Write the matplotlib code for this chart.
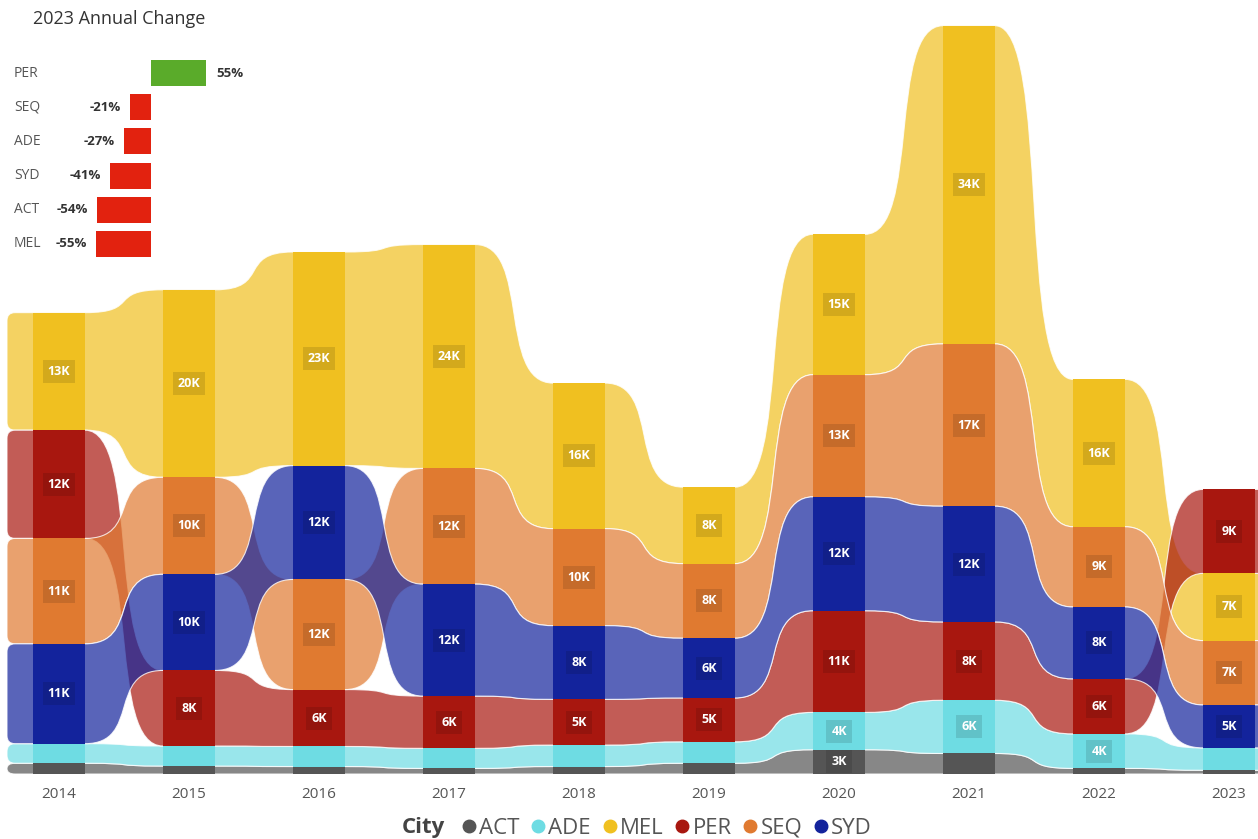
import numpy as np
import matplotlib.pyplot as plt
from matplotlib.path import Path
from matplotlib.patches import PathPatch
from matplotlib.lines import Line2D
from matplotlib.colors import to_rgb

plt.rcParams['font.family'] = ['Open Sans', 'DejaVu Sans']

# Dwellings per city and year (thousands)
years = [2014, 2015, 2016, 2017, 2018, 2019, 2020, 2021, 2022, 2023]
cities = ['ACT', 'ADE', 'MEL', 'PER', 'SEQ', 'SYD']

act = [1.15, 0.85, 0.8, 0.6, 0.8, 1.15, 2.6, 2.2, 0.6, 0.4]
ade = [2.1, 2.15, 2.15, 2.15, 2.3, 2.3, 4.0, 5.7, 3.7, 2.4]
mel = [12.6, 20.1, 22.9, 24.0, 15.6, 8.2, 15.05, 34.1, 15.8, 7.2]
per = [11.6, 8.1, 6.1, 5.6, 4.9, 4.7, 10.9, 8.4, 5.9, 9.0]
seq = [11.3, 10.4, 11.8, 12.4, 10.4, 8.0, 13.1, 17.4, 8.6, 6.9]
syd = [10.7, 10.3, 12.2, 12.0, 7.9, 6.4, 12.2, 12.4, 7.7, 4.6]

# 2023 annual change panel
change_cities = ['PER', 'SEQ', 'ADE', 'SYD', 'ACT', 'MEL']
change_pct = [55, -21, -27, -41, -54, -55]

colors = {'ACT': '#555555', 'ADE': '#6edce3', 'MEL': '#f0c020',
          'PER': '#a8170f', 'SEQ': '#e07a30', 'SYD': '#13239c'}

W, H = 1258, 839
PX_PER_UNIT = 130.0     # horizontal pixels per year
PX_PER_K = 9.33         # vertical pixels per thousand
BASE_PX, TOP_PX = 774, 20
BEND = 0.72             # bezier handle length as share of the gap (0.5 = gentle)

values = np.array([act, ade, mel, per, seq, syd])
n_years = len(years)
xc = np.arange(n_years, dtype=float)

# rank-ordered stacking: smallest at the bottom of each column
lows = np.zeros_like(values)
highs = np.zeros_like(values)
for j in range(n_years):
    order = np.argsort(values[:, j])
    cum = 0.0
    for k in order:
        lows[k, j] = cum
        cum += values[k, j]
        highs[k, j] = cum


def ribbon_path(lo, hi, hw=0.2, cap=0.2):
    M, L, C3, C4 = Path.MOVETO, Path.LINETO, Path.CURVE3, Path.CURVE4
    xl = xc[0] - hw - cap
    xr = xc[-1] + hw + cap
    rx = 8 / PX_PER_UNIT
    ry0 = min(8 / PX_PER_K, (hi[0] - lo[0]) / 2)
    ry1 = min(8 / PX_PER_K, (hi[-1] - lo[-1]) / 2)
    v, c = [], []
    v.append((xl + rx, hi[0])); c.append(M)
    v.append((xc[0] + hw, hi[0])); c.append(L)
    for i in range(n_years - 1):
        x0, x1 = xc[i] + hw, xc[i + 1] - hw
        d = (x1 - x0) * BEND
        v += [(x0 + d, hi[i]), (x1 - d, hi[i + 1]), (x1, hi[i + 1])]; c += [C4] * 3
        v.append((xc[i + 1] + hw, hi[i + 1])); c.append(L)
    v.append((xr - rx, hi[-1])); c.append(L)
    v += [(xr, hi[-1]), (xr, hi[-1] - ry1)]; c += [C3] * 2
    v.append((xr, lo[-1] + ry1)); c.append(L)
    v += [(xr, lo[-1]), (xr - rx, lo[-1])]; c += [C3] * 2
    v.append((xc[-1] - hw, lo[-1])); c.append(L)
    for i in range(n_years - 1, 0, -1):
        x1, x0 = xc[i] - hw, xc[i - 1] + hw
        d = (x1 - x0) * BEND
        v += [(x1 - d, lo[i]), (x0 + d, lo[i - 1]), (x0, lo[i - 1])]; c += [C4] * 3
        v.append((xc[i - 1] - hw, lo[i - 1])); c.append(L)
    v.append((xl + rx, lo[0])); c.append(L)
    v += [(xl, lo[0]), (xl, lo[0] + ry0)]; c += [C3] * 2
    v.append((xl, hi[0] - ry0)); c.append(L)
    v += [(xl, hi[0]), (xl + rx, hi[0])]; c += [C3] * 2
    v.append((0, 0)); c.append(Path.CLOSEPOLY)
    return Path(v, c)


fig = plt.figure(figsize=(W / 100, H / 100), dpi=100)
ax = fig.add_axes([0, 1 - BASE_PX / H, 1, (BASE_PX - TOP_PX) / H])
ax.set_xlim(-59 / PX_PER_UNIT, (W - 59) / PX_PER_UNIT)
ax.set_ylim(0, (BASE_PX - TOP_PX) / PX_PER_K)

# ribbons
for k, city in enumerate(cities):
    r, g, b = to_rgb(colors[city])
    patch = PathPatch(ribbon_path(lows[k], highs[k]),
                      facecolor=(r, g, b, 0.7), edgecolor=(1, 1, 1, 0.8),
                      linewidth=0.8, zorder=2)
    ax.add_patch(patch)

# columns and value labels
for k, city in enumerate(cities):
    ax.bar(xc, values[k], bottom=lows[k], width=0.4, color=colors[city],
           linewidth=0, zorder=3)
    dark = tuple(ch * 0.88 for ch in to_rgb(colors[city]))
    for j in range(n_years):
        val = values[k, j]
        if val < 2.55:
            continue
        ax.text(xc[j], lows[k, j] + val / 2, f"{val:.0f}K", ha='center',
                va='center', color='white', fontsize=9, fontweight='bold',
                zorder=4,
                bbox=dict(boxstyle='square,pad=0.4', fc=dark, ec='none'))

ax.set_xticks(xc)
ax.set_xticklabels([str(y) for y in years], fontsize=11, color='#555555')
ax.tick_params(axis='x', length=0, pad=9)
ax.set_yticks([])
for s in ax.spines.values():
    s.set_visible(False)
ax.patch.set_alpha(0)

# legend
handles = [Line2D([], [], marker='o', linestyle='', markersize=9,
                  color=colors[c]) for c in cities]
fig.legend(handles, cities, loc='center left',
           bbox_to_anchor=(448 / W, 1 - 828 / H), ncol=6, frameon=False,
           fontsize=16, handletextpad=0.0, columnspacing=0.4,
           handlelength=0.9, borderpad=0, labelcolor='#555555')
fig.text(445 / W, 1 - 828 / H, 'City', ha='right', va='center',
         fontsize=16, fontweight='bold', color='#444444')

# 2023 annual change panel
fig.text(33 / W, 1 - 19 / H, '2023 Annual Change', ha='left', va='center',
         fontsize=13, color='#333333')
ax_in = fig.add_axes([51 / W, 1 - 261 / H, 200 / W, 205 / H])
ax_in.set_xlim(-100, 100)
ax_in.set_ylim(5.5, -0.5)
pos = np.arange(len(change_cities))
bar_cols = ['#5aab2a' if p > 0 else '#e2220f' for p in change_pct]
ax_in.barh(pos, change_pct, height=0.76, color=bar_cols)
for i, (city, p) in enumerate(zip(change_cities, change_pct)):
    ax_in.text(-137, i, city, ha='left', va='center', fontsize=10,
               color='#555555', clip_on=False)
    if p > 0:
        ax_in.text(p + 10, i, f"{p}%", ha='left', va='center', fontsize=9.5,
                   fontweight='bold', color='#333333')
    else:
        ax_in.text(p - 9, i, f"{p}%", ha='right', va='center', fontsize=9.5,
                   fontweight='bold', color='#333333')
ax_in.axis('off')

fig.savefig('out.png', dpi=100)
